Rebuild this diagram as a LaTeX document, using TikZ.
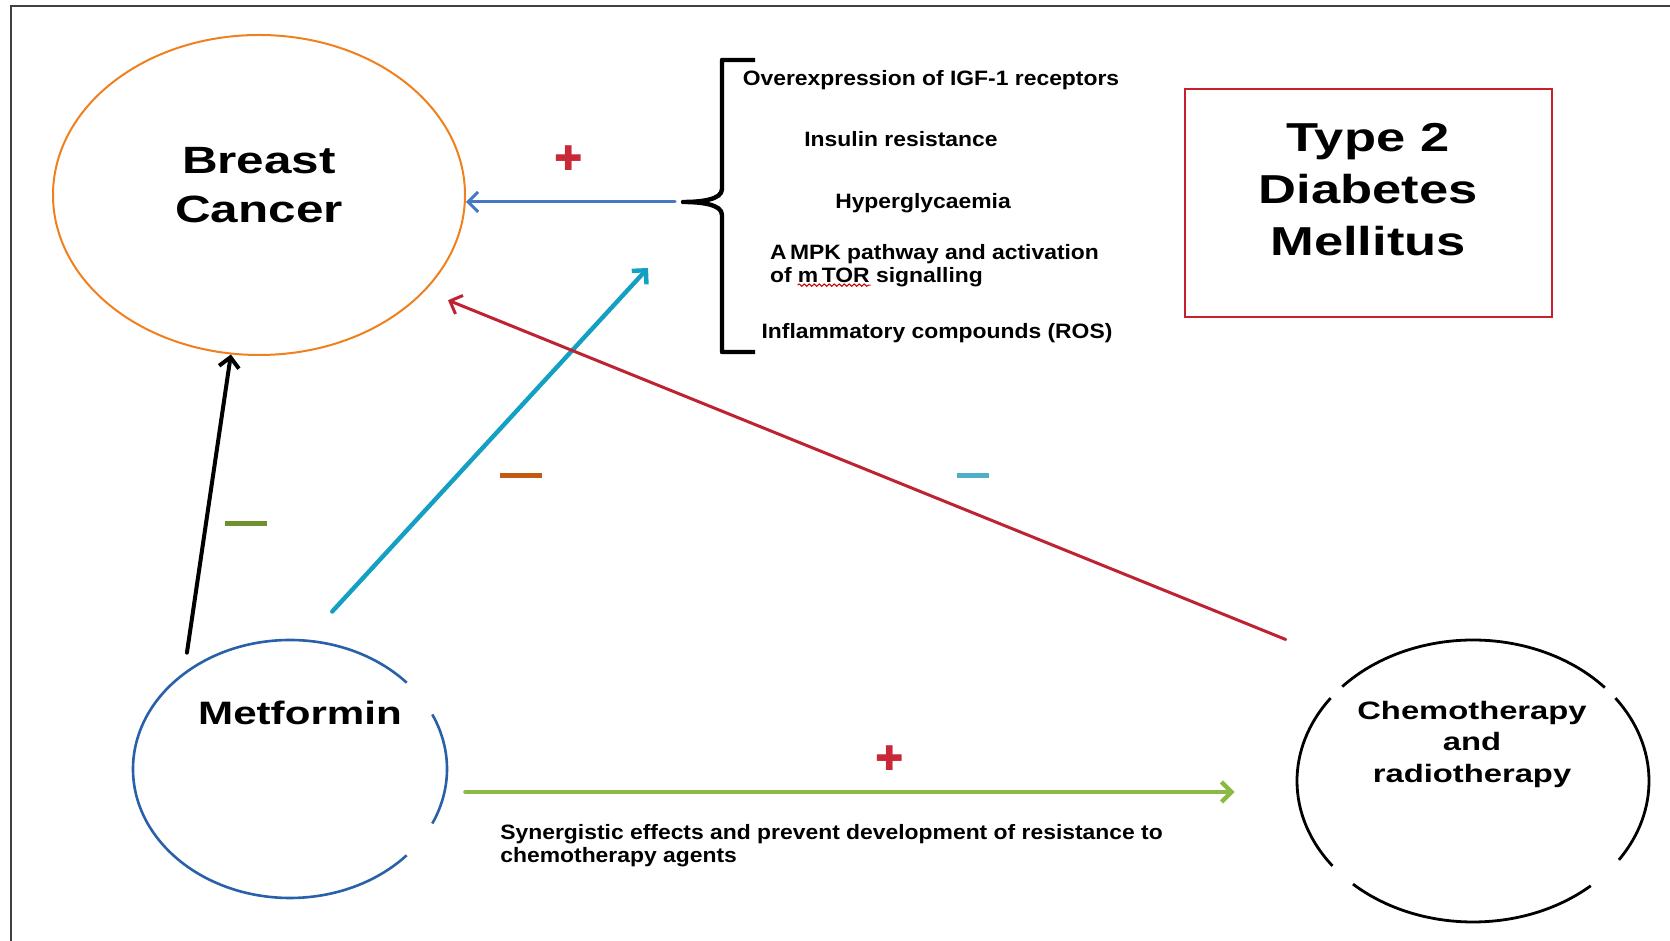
\documentclass[tikz,border=0pt]{standalone}
\usepackage{fontspec}
\setmainfont{Liberation Sans}[FakeStretch=1.1]
\newfontfamily\widefont{Liberation Sans}[FakeStretch=1.3]
\newfontfamily\symbolfont{DejaVu Sans}
\usetikzlibrary{shapes.geometric, arrows.meta, decorations.pathmorphing}

\definecolor{bcorange}{RGB}{240,128,30}
\definecolor{metfblue}{RGB}{40,96,170}
\definecolor{t2red}{RGB}{200,30,45}
\definecolor{arrblue}{RGB}{70,120,195}
\definecolor{arrcyan}{RGB}{20,160,195}
\definecolor{arrred}{RGB}{190,35,50}
\definecolor{arrgreen}{RGB}{140,185,70}
\definecolor{greenminus}{RGB}{110,145,45}
\definecolor{orangeminus}{RGB}{195,90,20}
\definecolor{cyanminus}{RGB}{80,175,200}
\definecolor{plusred}{RGB}{200,40,55}

\tikzset{
  disease/.style={ellipse, draw=bcorange, line width=1pt, minimum width=206pt, minimum height=160pt, inner sep=0pt},
  ring/.style args={#1/#2}{ellipse, minimum width=#1, minimum height=#2, inner sep=0pt},
  title/.style args={#1/#2}{font=\widefont\bfseries\fontsize{#1}{#2}\selectfont, align=center, inner sep=0pt},
  item/.style={font=\bfseries\fontsize{10.4}{11.5}\selectfont, align=left, inner sep=0pt},
  arrow/.style={-{Straight Barb[length=5pt, width=10pt]}, line cap=round},
  minussign/.style={fill=#1, minimum width=21pt, minimum height=2.5pt, inner sep=0pt},
  plussign/.style={text=plusred, font=\symbolfont\fontsize{17}{17}\selectfont, inner sep=0pt},
  bracket/.style={line width=2.2pt, line join=round},
  squiggle/.style={draw=red!80!black, line width=0.5pt, decorate, decoration={snake, amplitude=0.6pt, segment length=2.5pt}}
}

\begin{document}
\begin{tikzpicture}[x=0.5pt, y=0.5pt]
  \useasboundingbox (0,0) rectangle (1670,941);
  \draw [line width=1.2pt, black!75] (11,0) -- (11,935) -- (1670,935);

  % main shapes
  \node (breast) [disease] at (259,746) {};
  \node (breasttxt) [title=19pt/24.5pt] at (259,756) {Breast\\Cancer};
  \node (metf) [ring=157pt/129pt] at (290,172) {};
  \node (metftxt) [title=16.2pt/20pt] at (300,228) {Metformin};
  \node (chemo) [ring=176pt/141pt] at (1473,160) {};
  \node (chemotxt) [title=12.6pt/15.75pt] at (1472,197) {Chemotherapy\\and\\radiotherapy};
  \node (t2box) [draw=t2red, line width=1.3pt, minimum width=183.5pt, minimum height=114pt] at (1368.5,738) {};
  \node (t2dm) [title=20.2pt/26pt] at (1368,751) {Type 2\\Diabetes\\Mellitus};

  % broken outlines
  \foreach \a/\b in {42/318, -25/25}
    \draw [metfblue, line width=1.3pt] (metf.center) ++(\a:78.5pt and 64.5pt) arc[start angle=\a, end angle=\b, x radius=78.5pt, y radius=64.5pt];
  \foreach \a/\b in {41.5/138, 144/217, 227/312, -34/36}
    \draw [black, line width=1.4pt] (chemo.center) ++(\a:88pt and 70.5pt) arc[start angle=\a, end angle=\b, x radius=88pt, y radius=70.5pt];

  % risk factors
  \node (igf) [item] at (931,861) {Overexpression of IGF-1 receptors};
  \node (insulin) [item] at (901,802) {Insulin resistance};
  \node (hyper) [item] at (923,738) {Hyperglycaemia};
  \node (ampk) [item] at (934.5,675.5) {A\,MPK pathway and activation\\of m\,TOR signalling};
  \node (ros) [item] at (937,608) {Inflammatory compounds (ROS)};
  \draw [squiggle] ([xshift=14pt, yshift=1pt]ampk.south west) -- ++(73,0);

  \coordinate (brace) at (683,739);
  \draw [bracket] (755,881) -- (722,881) -- (722,752) .. controls (722,741) and (700,739) .. (brace)
    .. controls (700,739) and (722,737) .. (722,726) -- (722,589) -- (755,589);

  % arrows
  \draw [arrow, arrblue, line width=1.5pt, shorten <=4pt] (brace) -- node[plussign, yshift=22pt, xshift=-3pt] (plusbc) {✚} (brace -| breast.east);
  \draw [arrow, black, line width=2pt, shorten <=10.5pt] (metf.138) -- node[pos=0.471, minussign=greenminus, xshift=20pt] (minusbc) {} (breast.260);
  \coordinate (cyantip) at (648,673);
  \draw [arrow, arrcyan, line width=2.2pt, shorten <=19.5pt] (metf.83) -- node[pos=0.442, minussign=orangeminus, xshift=32pt] (minusrisk) {} (cyantip);
  \draw [arrow, arrred, line width=1.5pt, shorten <=41.5pt, shorten >=12.3pt] (chemo.135) -- node[pos=0.4155, minussign=cyanminus, minimum width=16pt, yshift=18.5pt] (minuschemo) {} (breast.330);
  \coordinate (greenstart) at ([yshift=-11.5pt]metf.east);
  \draw [arrow, arrgreen, line width=2.2pt, shorten <=9pt, shorten >=31pt] (greenstart) -- node[pos=0.521, plussign, yshift=17pt] (plussyn) {✚} (greenstart -| chemo.west);

  \node (syntxt) [item, anchor=west] at (500,95.5) {Synergistic effects and prevent development of resistance to\\chemotherapy agents};
\end{tikzpicture}
\end{document}
